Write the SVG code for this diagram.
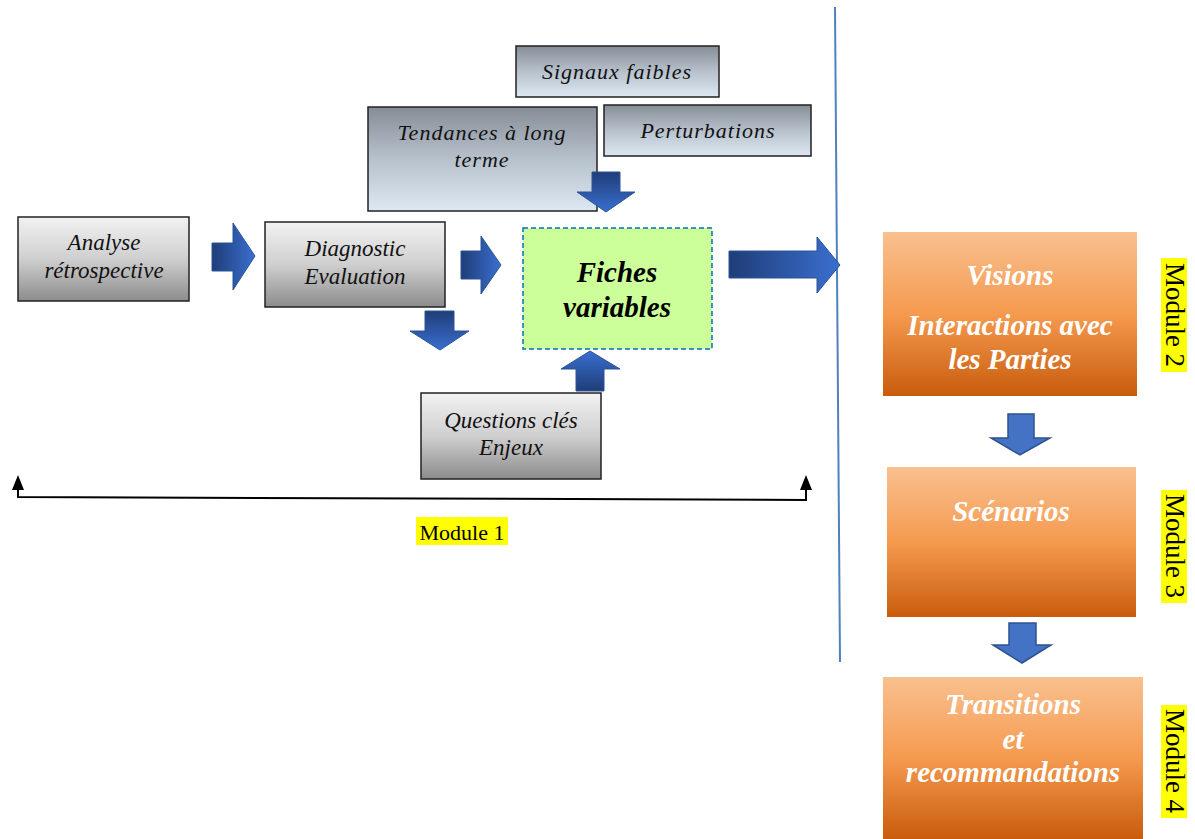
<svg xmlns="http://www.w3.org/2000/svg" width="1195" height="839" viewBox="0 0 1195 839">
<defs>
<linearGradient id="gGray" x1="0" y1="0" x2="0" y2="1">
<stop offset="0" stop-color="#f2f2f2"/><stop offset="0.5" stop-color="#cfcfcf"/><stop offset="1" stop-color="#8c8c8c"/>
</linearGradient>
<linearGradient id="gBlue" x1="0" y1="0" x2="0" y2="1">
<stop offset="0" stop-color="#868d96"/><stop offset="0.5" stop-color="#b7c1cc"/><stop offset="1" stop-color="#dde8f3"/>
</linearGradient>
<linearGradient id="gOrange" x1="0" y1="0" x2="0" y2="1">
<stop offset="0" stop-color="#f9c08f"/><stop offset="0.5" stop-color="#f59a4f"/><stop offset="1" stop-color="#c95c0c"/>
</linearGradient>
<linearGradient id="gArrH" x1="0" y1="0" x2="1" y2="0">
<stop offset="0" stop-color="#1f3d78"/><stop offset="1" stop-color="#3a6fd0"/>
</linearGradient>
<linearGradient id="gArrV" x1="0" y1="0" x2="0" y2="1">
<stop offset="0" stop-color="#1f3d78"/><stop offset="1" stop-color="#3a6fd0"/>
</linearGradient>
<linearGradient id="gArrU" x1="0" y1="1" x2="0" y2="0">
<stop offset="0" stop-color="#1f3d78"/><stop offset="1" stop-color="#3a6fd0"/>
</linearGradient>
</defs>
<style>
.box{stroke:#222;stroke-width:1.5}
.gray{fill:url(#gGray)}
.blue{fill:url(#gBlue)}
.orange{fill:url(#gOrange)}
.t{font-family:"Liberation Serif","Times New Roman",serif;font-style:italic;font-size:23px;fill:#111;text-anchor:middle}
.ts{font-family:"Liberation Serif","Times New Roman",serif;font-style:italic;font-size:22px;letter-spacing:1px;fill:#111;text-anchor:middle}
.tb{font-family:"Liberation Serif","Times New Roman",serif;font-style:italic;font-weight:bold;font-size:29px;fill:#000;text-anchor:middle}
.tw{font-family:"Liberation Serif","Times New Roman",serif;font-style:italic;font-weight:bold;font-size:29px;fill:#fff;text-anchor:middle}
.mod{font-family:"Liberation Serif","Times New Roman",serif;font-size:27px;fill:#000}
.arrH{fill:url(#gArrH);stroke:#2c5596;stroke-width:1}
.arrV{fill:url(#gArrV);stroke:#2c5596;stroke-width:1}
.arrU{fill:url(#gArrU);stroke:#2c5596;stroke-width:1}
.arrL{fill:#4472c4;stroke:#2f528f;stroke-width:1.5}
</style>

<g id="divider"><line x1="835" y1="7" x2="840" y2="662" stroke="#4f81bd" stroke-width="2"/></g>

<g id="analyse"><rect class="box gray" x="18" y="217" width="171" height="84"/>
<text class="t" x="104" y="250">Analyse</text><text class="t" x="104" y="278">rétrospective</text></g>

<g id="diagnostic"><rect class="box gray" x="265" y="222" width="180" height="85"/>
<text class="t" x="355" y="256">Diagnostic</text><text class="t" x="355" y="284">Evaluation</text></g>

<g id="signaux"><rect class="box blue" x="516" y="46" width="203" height="51"/>
<text class="ts" x="617" y="79">Signaux faibles</text></g>

<g id="tendances"><rect class="box blue" x="368" y="107" width="229" height="104"/>
<text class="ts" x="482" y="140">Tendances à long</text><text class="ts" x="482" y="167">terme</text></g>

<g id="perturbations"><rect class="box blue" x="604" y="105" width="207" height="51"/>
<text class="ts" x="708" y="138">Perturbations</text></g>

<g id="fiches"><rect x="523" y="228" width="189" height="121" fill="#ccff99" stroke="#0070c0" stroke-width="1.5" stroke-dasharray="5,3"/>
<text class="tb" x="617" y="282">Fiches</text><text class="tb" x="617" y="317">variables</text></g>

<g id="questions"><rect class="box gray" x="421" y="393" width="180" height="86"/>
<text class="t" x="511" y="428">Questions clés</text><text class="t" x="511" y="455">Enjeux</text></g>

<g id="visions"><rect class="orange" x="883" y="232" width="254" height="164"/>
<text class="tw" x="1010" y="285">Visions</text><text class="tw" x="1010" y="335">Interactions avec</text><text class="tw" x="1010" y="369">les Parties</text></g>

<g id="scenarios"><rect class="orange" x="887" y="467" width="249" height="150"/>
<text class="tw" x="1011" y="521">Scénarios</text></g>

<g id="transitions"><rect class="orange" x="883" y="677" width="260" height="162"/>
<text class="tw" x="1013" y="714">Transitions</text><text class="tw" x="1013" y="749">et</text><text class="tw" x="1013" y="782">recommandations</text></g>

<g id="module1"><rect x="416" y="517" width="92" height="28" fill="#ffff00"/>
<text class="mod" x="462" y="540" text-anchor="middle" style="font-size:22px">Module 1</text></g>
<g id="module2"><rect x="1161" y="258" width="26" height="114" fill="#ffff00"/>
<text class="mod" transform="translate(1166,315) rotate(90)" text-anchor="middle">Module 2</text></g>
<g id="module3"><rect x="1161" y="490" width="26" height="113" fill="#ffff00"/>
<text class="mod" transform="translate(1166,546) rotate(90)" text-anchor="middle">Module 3</text></g>
<g id="module4"><rect x="1161" y="705" width="26" height="113" fill="#ffff00"/>
<text class="mod" transform="translate(1166,761) rotate(90)" text-anchor="middle">Module 4</text></g>

<g id="connectors">
<path class="arrH" d="M212,243 H233 V223 L255,256 L233,290 V271 H212 Z"/>
<path class="arrH" d="M461,251 H481 V236 L501,265 L481,294 V279 H461 Z"/>
<path class="arrH" d="M729,251 H817 V237 L840,265 L817,293 V278 H729 Z"/>
<path class="arrV" d="M592,172 H620 V192 H635 L606,212 L577,192 H592 Z"/>
<path class="arrV" d="M425,311 H454 V331 H469 L440,350 L410,331 H425 Z"/>
<path class="arrU" d="M576,391 V369 H561 L590,351 L620,369 H604 V391 Z"/>
<path class="arrL" d="M1008,414 H1034 V438 H1050 L1020,455 L991,438 H1008 Z"/>
<path class="arrL" d="M1009,623 H1036 V645 H1051 L1022,663 L993,645 H1009 Z"/>
<polyline points="18,488 18,497 806,500 806,488" fill="none" stroke="#000" stroke-width="2"/>
<path d="M18,475 L24,490 L12,490 Z" fill="#000"/>
<path d="M806,475 L812,490 L800,490 Z" fill="#000"/>
</g>
</svg>
